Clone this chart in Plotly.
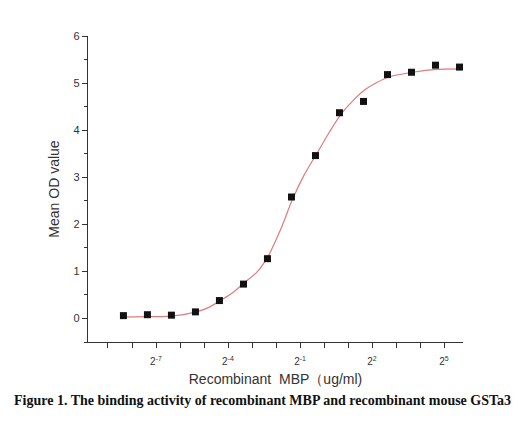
import plotly.graph_objects as go

# Measured data (ug/ml, mean OD)
conc = [0.00305, 0.0061, 0.0122, 0.0244, 0.0488, 0.0977, 0.1953, 0.3906,
        0.78125, 1.5625, 3.125, 6.25, 12.5, 25, 50]
od = [0.06, 0.08, 0.07, 0.14, 0.38, 0.73, 1.27, 2.58, 3.46, 4.37, 4.61,
      5.18, 5.23, 5.38, 5.34]

# Fitted curve
curve_conc = [0.0029, 0.0062, 0.0124, 0.025, 0.0354, 0.05, 0.0707, 0.1, 0.145,
              0.2, 0.287, 0.4, 0.56, 0.81, 1.16, 1.62, 2.17, 3.25, 6.5, 13, 26, 51]
curve_od = [0.03, 0.04, 0.05, 0.14, 0.23, 0.38, 0.54, 0.76, 0.99, 1.33, 1.90,
            2.52, 3.04, 3.50, 3.95, 4.33, 4.58, 4.86, 5.13, 5.23, 5.29, 5.30]

# Axis ticks
x_minor_vals = [2 ** k for k in range(-9, 6)]
x_tick_vals = [2 ** -7, 2 ** -4, 2 ** -1, 2 ** 2, 2 ** 5]
x_tick_text = ["2<sup>-7</sup>", "2<sup>-4</sup>", "2<sup>-1</sup>", "2<sup>2</sup>", "2<sup>5</sup>"]
y_tick_vals = [0, 1, 2, 3, 4, 5, 6]

caption = "Figure 1. The binding activity of recombinant MBP and recombinant mouse GSTa3"

fig = go.Figure()
fig.add_trace(go.Scatter(x=curve_conc, y=curve_od, mode="lines",
                         line=dict(color="#e07a7a", width=1.2, shape="spline", smoothing=0.8),
                         showlegend=False, hoverinfo="skip"))
fig.add_trace(go.Scatter(x=conc, y=od, mode="markers",
                         marker=dict(symbol="square", size=7, color="#111111"),
                         showlegend=False))

axis_font = dict(family="Liberation Sans, Arial", size=10, color="#333333")
fig.update_layout(
    width=521, height=440,
    margin=dict(l=80, r=66, t=28, b=106),
    paper_bgcolor="white", plot_bgcolor="white",
    xaxis=dict(type="log", range=[-2.96, 1.743], showgrid=False, zeroline=False,
               showline=True, linecolor="#333333", linewidth=1.2,
               ticks="outside", ticklen=5, tickcolor="#333333", tickwidth=1.2,
               tickmode="array", tickvals=x_tick_vals, ticktext=x_tick_text,
               ticklabelstandoff=5,
               minor=dict(ticks="outside", ticklen=5, tickcolor="#333333", tickwidth=1.2,
                          tickmode="array", tickvals=x_minor_vals, showgrid=False),
               tickfont=axis_font,
               title=dict(text="Recombinant  MBP（ug/ml)", standoff=8,
                          font=dict(family="Liberation Sans, Arial", size=14, color="#333333"))),
    yaxis=dict(range=[-0.5, 6], showgrid=False, zeroline=False,
               showline=True, linecolor="#333333", linewidth=1.2,
               ticks="outside", ticklen=5, tickcolor="#333333", tickwidth=1.2,
               tickmode="array", tickvals=y_tick_vals,
               minor=dict(ticks="outside", ticklen=3, tickcolor="#333333", dtick=0.5, showgrid=False),
               tickfont=dict(family="Liberation Sans, Arial", size=11, color="#333333"),
               title=dict(text="Mean OD value", standoff=10,
                          font=dict(family="Liberation Sans, Arial", size=14, color="#333333"))),
    annotations=[dict(text="<b>" + caption + "</b>", xref="paper", yref="paper",
                      x=(262 - 88) / 375, y=(342 - 400) / 306, xanchor="center", yanchor="middle",
                      showarrow=False,
                      font=dict(family="Liberation Serif, Times New Roman", size=14, color="#111111"))],
)

fig.write_html("out.html")
